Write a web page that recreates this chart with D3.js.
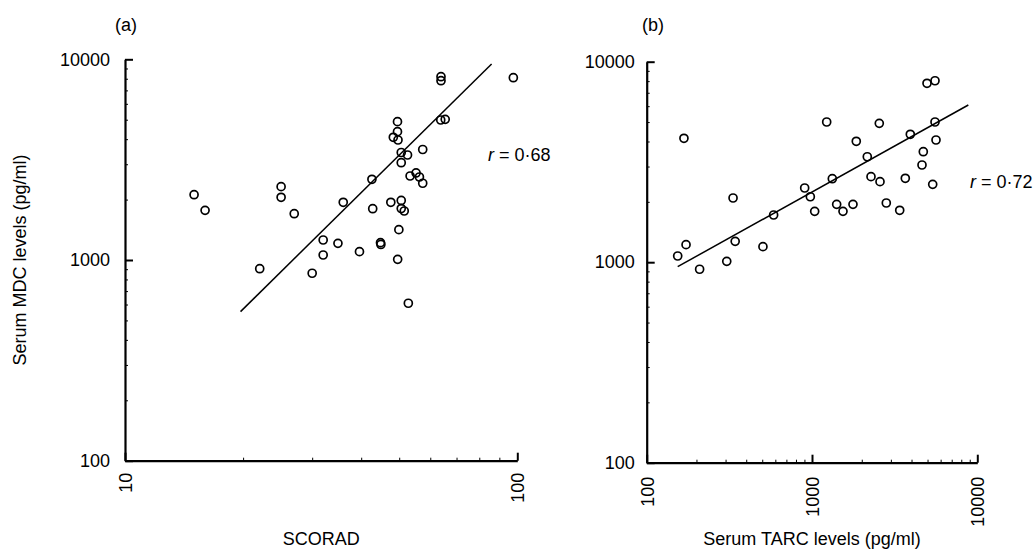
<!DOCTYPE html>
<html>
<head>
<meta charset="utf-8">
<script src="https://cdn.jsdelivr.net/npm/d3@7"></script>
<style>
  html, body { margin: 0; padding: 0; background: #fff; }
  svg { display: block; }
  text { font-family: "Liberation Sans", Arial, Helvetica, sans-serif; fill: #000; }
</style>
</head>
<body>
<svg id="chart" width="1035" height="552"></svg>
<script>
// Panel (a): SCORAD vs serum MDC
const scoradA = [15.0, 16.0, 25.0, 25.0, 27.0, 22.05, 30.0, 32.0, 32.0, 34.9, 36.0, 39.6, 42.6, 42.8,
  44.8, 44.9, 47.6, 49.5, 49.5, 48.3, 49.65, 50.6, 50.6, 52.5, 50.6, 50.6, 51.5, 49.9, 49.55, 52.75,
  53.3, 55.2, 56.3, 57.4, 57.4, 63.9, 63.9, 63.8, 65.5, 97.7];
const mdcA = [2115, 1768, 2319, 2053, 1701, 905, 859, 1258, 1059, 1211, 1939, 1100, 2524, 1801,
  1220, 1195, 1939, 4889, 4358, 4087, 3962, 3432, 3053, 3335, 1980, 1805, 1754, 1416, 1008, 609,
  2621, 2714, 2592, 2412, 3553, 8190, 7823, 4983, 5023, 8095];
const fitAx = [19.7, 86.0];
const fitAy = [553, 9476];

// Panel (b): serum TARC vs serum MDC
const tarcB = [168, 154, 173, 209, 305, 333, 343, 505, 586, 903, 977, 1038, 1227, 1327, 1410, 1540,
  1770, 1853, 2160, 2275, 2579, 2553, 2815, 3393, 3668, 3933, 4629, 4713, 4963, 5548, 5548, 5626, 5373];
const mdcB = [4150, 1074, 1223, 922, 1010, 2090, 1271, 1195, 1720, 2344, 2121, 1794, 5002, 2609, 1944, 1794,
  1944, 4009, 3357, 2670, 2521, 4928, 1974, 1815, 2621, 4344, 3053, 3557, 7804, 8037, 5002, 4069, 2446];
const fitBx = [154, 8823];
const fitBy = [950, 6082];

const yTicks = [100, 1000, 10000];
const xTicksA = [10, 100];
const xTicksB = [100, 1000, 10000];

const svg = d3.select("#chart");
const FONT = 18;

function minorTicks(lo, hi) {
  const out = [];
  for (let d = lo; d < hi; d *= 10) {
    for (let k = 2; k <= 9; k++) out.push(d * k);
  }
  return out;
}

function panel(opts) {
  const g = svg.append("g");
  const x = d3.scaleLog().domain(opts.xDomain).range(opts.xRange);
  const y = d3.scaleLog().domain([100, 10000]).range(opts.yRange);
  const x0 = opts.xRange[0], y0 = opts.yRange[0];

  // minor ticks (inward)
  g.append("g").attr("transform", `translate(${x0},0)`)
    .call(d3.axisLeft(y).tickValues(minorTicks(100, 10000)).tickSizeInner(-3).tickSizeOuter(0).tickFormat(""))
    .call(s => s.select(".domain").remove())
    .selectAll("line").attr("stroke-width", 1);
  g.append("g").attr("transform", `translate(0,${y0})`)
    .call(d3.axisBottom(x).tickValues(minorTicks(opts.xDomain[0], opts.xDomain[1])).tickSizeInner(-3).tickSizeOuter(0).tickFormat(""))
    .call(s => s.select(".domain").remove())
    .selectAll("line").attr("stroke-width", 1);

  // y axis
  const ya = g.append("g").attr("transform", `translate(${x0},0)`)
    .call(d3.axisLeft(y).tickValues(yTicks).tickFormat(d3.format("d"))
      .tickSizeInner(-8).tickSizeOuter(0).tickPadding(opts.yPad));
  ya.select(".domain").attr("stroke-width", 2.2);
  ya.selectAll(".tick line").attr("stroke-width", 2);
  ya.selectAll("text").style("font-size", FONT + "px").style("font-family", null);

  // x axis
  const xa = g.append("g").attr("transform", `translate(0,${y0})`)
    .call(d3.axisBottom(x).tickValues(opts.xTicks).tickFormat(d3.format("d"))
      .tickSizeInner(-8).tickSizeOuter(0));
  xa.select(".domain").attr("stroke-width", 2.2);
  xa.selectAll(".tick line").attr("stroke-width", 2);
  xa.selectAll("text")
    .style("font-size", FONT + "px").style("font-family", null)
    .attr("transform", "rotate(-90)")
    .attr("x", -opts.xPad).attr("y", 0).attr("dy", "0.35em")
    .style("text-anchor", "end");

  // regression line
  g.append("line")
    .attr("x1", x(opts.fitX[0])).attr("y1", y(opts.fitY[0]))
    .attr("x2", x(opts.fitX[1])).attr("y2", y(opts.fitY[1]))
    .attr("stroke", "#000").attr("stroke-width", 1.5);

  // points
  g.selectAll("circle.pt").data(opts.xs.map((v, i) => [v, opts.ys[i]]))
    .join("circle").attr("class", "pt")
    .attr("cx", d => x(d[0])).attr("cy", d => y(d[1])).attr("r", 4)
    .attr("fill", "none").attr("stroke", "#000").attr("stroke-width", 1.7);

  // panel letter
  g.append("text").attr("x", opts.letterX).attr("y", 31)
    .style("font-size", FONT + "px").text(opts.letter);

  // correlation label
  const r = g.append("text").attr("x", opts.rX).attr("y", opts.rY).style("font-size", FONT + "px");
  r.append("tspan").style("font-style", "italic").text("r");
  r.append("tspan").text(" = " + opts.rText);

  // x title
  g.append("text").attr("x", (opts.xRange[0] + opts.xRange[1]) / 2).attr("y", 545)
    .attr("text-anchor", "middle").style("font-size", FONT + "px").text(opts.xTitle);
}

panel({
  xDomain: [10, 100], xRange: [125, 517.3], yRange: [460.7, 59.3],
  xTicks: xTicksA, yPad: 15, xPad: 12,
  xs: scoradA, ys: mdcA, fitX: fitAx, fitY: fitAy,
  letter: "(a)", letterX: 115, rX: 488, rY: 161, rText: "0·68",
  xTitle: "SCORAD"
});

panel({
  xDomain: [100, 10000], xRange: [646.7, 977.3], yRange: [462.7, 61.7],
  xTicks: xTicksB, yPad: 12, xPad: 14,
  xs: tarcB, ys: mdcB, fitX: fitBx, fitY: fitBy,
  letter: "(b)", letterX: 642, rX: 970, rY: 188, rText: "0·72",
  xTitle: "Serum TARC levels (pg/ml)"
});

// shared y title
svg.append("text")
  .attr("transform", `translate(26,${(59.3 + 460.7) / 2}) rotate(-90)`)
  .attr("text-anchor", "middle").style("font-size", FONT + "px")
  .text("Serum MDC levels (pg/ml)");
</script>
</body>
</html>
